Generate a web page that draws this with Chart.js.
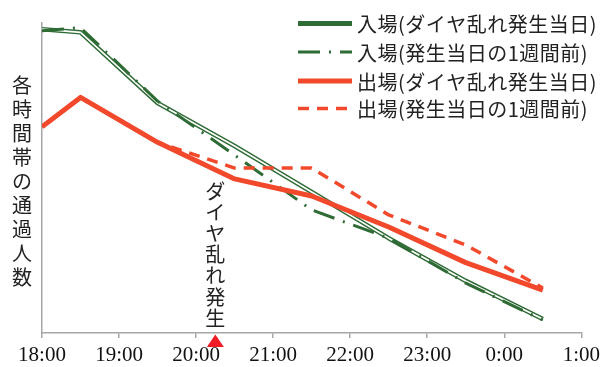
<!DOCTYPE html>
<html>
<head>
<meta charset="utf-8">
<script src="https://cdn.jsdelivr.net/npm/chart.js@4/dist/chart.umd.min.js"></script>
<style>
  html, body { margin: 0; padding: 0; background: #fff; }
  canvas { display: block; }
</style>
</head>
<body>
<canvas id="c" width="605" height="367"></canvas>
<script>
// Hour of day for each reading (24.5 = 0:30 the next day)
const hours = [18, 18.5, 19.5, 20.5, 21.5, 22.5, 23.5, 24.5];

// Passengers per time slot (relative scale, 0-100)
const entryToday    = [98, 97, 74.2, 60.3, 45.5, 30.6, 16.8, 4.5];
const entryLastWeek = [97.5, 98.5, 74.8, 57.4, 39.7, 30.6, 16.1, 4.2];
const exitToday     = [66.5, 76, 61.5, 49.7, 44.2, 34.2, 22.7, 13.8];
const exitLastWeek  = [66.5, 76, 61.5, 53.2, 53.2, 38.1, 28.4, 14.5];

const seriesNames = [
  '入場(ダイヤ乱れ発生当日)',
  '入場(発生当日の1週間前)',
  '出場(ダイヤ乱れ発生当日)',
  '出場(発生当日の1週間前)'
];

const tickHours = [18, 19, 20, 21, 22, 23, 24, 25];
const yTitle = '各時間帯の通過人数';
const eventLabel = 'ダイヤ乱れ発生';
const eventHour = 20.25;

const GREEN = '#2f6b35';
const RED = '#f2482b';
const CJK = '"Noto Sans CJK JP", "Noto Sans", sans-serif';

const pts = arr => arr.map((v, i) => ({ x: hours[i], y: v }));

const datasets = [
  { label: seriesNames[2], data: pts(exitToday), borderColor: RED, borderWidth: 5, borderDash: [] },
  { label: seriesNames[3], data: pts(exitLastWeek), borderColor: RED, borderWidth: 3.5, borderDash: [11, 8] },
  { label: seriesNames[1], data: pts(entryLastWeek), borderColor: GREEN, borderWidth: 3, borderDash: [22, 9, 2, 9] },
  // white core that turns the green line into a double stroke
  { label: '', data: pts(entryToday), borderColor: '#ffffff', borderWidth: 1.7, borderDash: [] },
  { label: seriesNames[0], data: pts(entryToday), borderColor: GREEN, borderWidth: 4.6, borderDash: [], legendWidth: 5 }
].map(d => Object.assign({
  pointRadius: 0, tension: 0, fill: false,
  borderCapStyle: 'butt', borderJoinStyle: 'round'
}, d));

// legend rows: dataset index in drawing order
const legendOrder = [4, 2, 0, 1];
const legendRowsY = [23.5, 52, 81, 108.5];

const legendPlugin = {
  id: 'sideLegend',
  afterDraw(chart) {
    const ctx = chart.ctx;
    legendOrder.forEach((di, i) => {
      const ds = chart.data.datasets[di];
      const y = legendRowsY[i];
      ctx.save();
      ctx.strokeStyle = ds.borderColor;
      ctx.lineWidth = ds.legendWidth || ds.borderWidth;
      ctx.setLineDash(ds.borderDash || []);
      ctx.beginPath();
      ctx.moveTo(298, y);
      ctx.lineTo(352, y);
      ctx.stroke();
      ctx.setLineDash([]);
      ctx.fillStyle = '#222';
      ctx.font = '20px ' + CJK;
      ctx.letterSpacing = '0.5px';
      ctx.textBaseline = 'middle';
      ctx.fillText(ds.label, 357, y + 1);
      ctx.restore();
    });
  }
};

const notesPlugin = {
  id: 'notes',
  afterDraw(chart) {
    const ctx = chart.ctx;
    const xs = chart.scales.x;
    const area = chart.chartArea;
    ctx.save();
    // vertical axis title, one character per line
    ctx.fillStyle = '#222';
    ctx.font = '20px ' + CJK;
    ctx.textAlign = 'center';
    ctx.textBaseline = 'middle';
    [...yTitle].forEach((ch, i) => ctx.fillText(ch, 22, 85 + i * 24.1));

    // event marker: stacked label and triangle below the axis
    const ex = xs.getPixelForValue(eventHour);
    [...eventLabel].forEach((ch, i) => ctx.fillText(ch, ex, 191 + i * 21.2));
    ctx.fillStyle = '#ee1c24';
    ctx.beginPath();
    ctx.moveTo(ex, area.bottom + 1.5);
    ctx.lineTo(ex + 8.5, area.bottom + 14);
    ctx.lineTo(ex - 8.5, area.bottom + 14);
    ctx.closePath();
    ctx.fill();
    ctx.restore();
  }
};

new Chart(document.getElementById('c'), {
  type: 'line',
  data: { datasets },
  options: {
    responsive: false,
    animation: false,
    events: [],
    layout: { padding: { left: 42, right: 21, top: 23, bottom: 0 } },
    plugins: { legend: { display: false }, tooltip: { enabled: false } },
    scales: {
      x: {
        type: 'linear',
        min: tickHours[0],
        max: tickHours[tickHours.length - 1],
        afterBuildTicks: s => { s.ticks = tickHours.map(v => ({ value: v })); },
        afterFit: s => { s.height = 34; },
        grid: { display: true, drawOnChartArea: false, drawTicks: true, tickLength: 5, color: '#a6a6a6', lineWidth: 1.5 },
        border: { display: true, color: '#a6a6a6', width: 1.5 },
        ticks: {
          color: '#111',
          padding: 5,
          maxRotation: 0,
          font: { family: '"Liberation Serif", serif', size: 21 },
          callback: v => (v % 24) + ':00'
        }
      },
      y: {
        min: 0,
        max: 100,
        afterFit: s => { s.width = 0; },
        grid: { display: false },
        border: { display: true, color: '#a6a6a6', width: 1.5 },
        ticks: { display: false }
      }
    }
  },
  plugins: [legendPlugin, notesPlugin]
});
</script>
</body>
</html>
